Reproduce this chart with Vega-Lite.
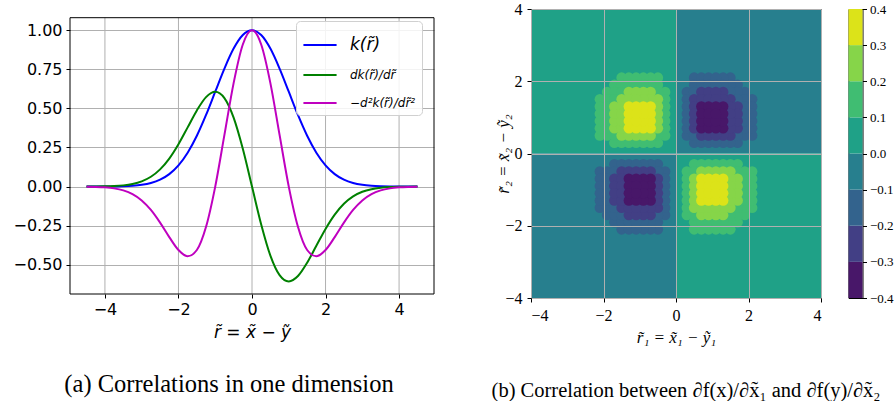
{
"$schema":"https://vega.github.io/schema/vega-lite/v6.json",
"background":"white",
"padding":{"left":12,"top":0,"right":0,"bottom":0},
"spacing":56,
"config":{
 "view":{"stroke":"black","strokeWidth":1},
 "axis":{"domain":false,"tickColor":"black","labelColor":"black","titleColor":"black","gridColor":"#b0b0b0","gridWidth":1,"tickSize":4,"titleFontWeight":"normal"},
 "title":{"fontWeight":"normal","color":"black"}
},
"resolve":{"scale":{"color":"independent"},"legend":{"color":"independent"}},
"hconcat":[
{
 "title":{"text":"(a) Correlations in one dimension","orient":"bottom","font":"Liberation Serif","fontSize":24.5,"offset":33,"anchor":"middle","dx":-23},
 "width":364,"height":285,
 "view":{"stroke":null},
 "encoding":{
   "x":{"field":"r","type":"quantitative","scale":{"domain":[-4.95,4.95],"nice":false,"zero":false},
        "axis":{"values":[-4,-2,0,2,4],"format":"d","grid":false,"title":"r̃ = x̃ − ỹ","labelFont":"DejaVu Sans","labelFontSize":16,"labelPadding":3,"titleFont":"DejaVu Sans","titleFontSize":17,"titleFontStyle":"italic","titlePadding":7}},
   "y":{"field":"v","type":"quantitative","scale":{"domain":[-0.687,1.1356],"nice":false,"zero":false},
        "axis":{"values":[-0.5,-0.25,0,0.25,0.5,0.75,1],"format":".2f","title":null,"labelFont":"DejaVu Sans","labelFontSize":16,"labelPadding":4}}
 },
 "layer":[
  {"data":{"values":[{"r":-4,"v":-0.687,"v2":1.08},{"r":-2,"v":-0.687,"v2":1.08},{"r":0,"v":-0.687,"v2":1.08},{"r":2,"v":-0.687,"v2":1.08},{"r":4,"v":-0.687,"v2":1.08}]},
   "mark":{"type":"rule","color":"#b0b0b0","strokeWidth":1},
   "encoding":{"y2":{"field":"v2"}}},
  {"data":{"values":[
{"r":-4.5,"c":"k","v":0.00004},{"r":-4.25,"c":"k","v":0.00012},{"r":-4,"c":"k","v":0.00034},{"r":-3.75,"c":"k","v":0.00088},{"r":-3.5,"c":"k","v":0.00219},{"r":-3.25,"c":"k","v":0.00509},{"r":-3,"c":"k","v":0.01111},{"r":-2.75,"c":"k","v":0.02279},{"r":-2.5,"c":"k","v":0.04394},{"r":-2.25,"c":"k","v":0.07956},{"r":-2,"c":"k","v":0.13534},{"r":-1.75,"c":"k","v":0.21627},{"r":-1.5,"c":"k","v":0.32465},{"r":-1.25,"c":"k","v":0.45783},{"r":-1,"c":"k","v":0.60653},{"r":-0.75,"c":"k","v":0.75484},{"r":-0.5,"c":"k","v":0.8825},{"r":-0.25,"c":"k","v":0.96923},{"r":0,"c":"k","v":1},{"r":0.25,"c":"k","v":0.96923},{"r":0.5,"c":"k","v":0.8825},{"r":0.75,"c":"k","v":0.75484},{"r":1,"c":"k","v":0.60653},{"r":1.25,"c":"k","v":0.45783},{"r":1.5,"c":"k","v":0.32465},{"r":1.75,"c":"k","v":0.21627},{"r":2,"c":"k","v":0.13534},{"r":2.25,"c":"k","v":0.07956},{"r":2.5,"c":"k","v":0.04394},{"r":2.75,"c":"k","v":0.02279},{"r":3,"c":"k","v":0.01111},{"r":3.25,"c":"k","v":0.00509},{"r":3.5,"c":"k","v":0.00219},{"r":3.75,"c":"k","v":0.00088},{"r":4,"c":"k","v":0.00034},{"r":4.25,"c":"k","v":0.00012},{"r":4.5,"c":"k","v":0.00004},
{"r":-4.5,"c":"d1","v":0.00018},{"r":-4.25,"c":"d1","v":0.00051},{"r":-4,"c":"d1","v":0.00134},{"r":-3.75,"c":"d1","v":0.00332},{"r":-3.5,"c":"d1","v":0.00766},{"r":-3.25,"c":"d1","v":0.01653},{"r":-3,"c":"d1","v":0.03333},{"r":-2.75,"c":"d1","v":0.06268},{"r":-2.5,"c":"d1","v":0.10984},{"r":-2.25,"c":"d1","v":0.17901},{"r":-2,"c":"d1","v":0.27067},{"r":-1.75,"c":"d1","v":0.37847},{"r":-1.5,"c":"d1","v":0.48698},{"r":-1.25,"c":"d1","v":0.57229},{"r":-1,"c":"d1","v":0.60653},{"r":-0.75,"c":"d1","v":0.56613},{"r":-0.5,"c":"d1","v":0.44125},{"r":-0.25,"c":"d1","v":0.24231},{"r":0,"c":"d1","v":0},{"r":0.25,"c":"d1","v":-0.24231},{"r":0.5,"c":"d1","v":-0.44125},{"r":0.75,"c":"d1","v":-0.56613},{"r":1,"c":"d1","v":-0.60653},{"r":1.25,"c":"d1","v":-0.57229},{"r":1.5,"c":"d1","v":-0.48698},{"r":1.75,"c":"d1","v":-0.37847},{"r":2,"c":"d1","v":-0.27067},{"r":2.25,"c":"d1","v":-0.17901},{"r":2.5,"c":"d1","v":-0.10984},{"r":2.75,"c":"d1","v":-0.06268},{"r":3,"c":"d1","v":-0.03333},{"r":3.25,"c":"d1","v":-0.01653},{"r":3.5,"c":"d1","v":-0.00766},{"r":3.75,"c":"d1","v":-0.00332},{"r":4,"c":"d1","v":-0.00134},{"r":4.25,"c":"d1","v":-0.00051},{"r":4.5,"c":"d1","v":-0.00018},
{"r":-4.5,"c":"d2","v":-0.00077},{"r":-4.25,"c":"d2","v":-0.00205},{"r":-4,"c":"d2","v":-0.00503},{"r":-3.75,"c":"d2","v":-0.01155},{"r":-3.5,"c":"d2","v":-0.0246},{"r":-3.25,"c":"d2","v":-0.04864},{"r":-3,"c":"d2","v":-0.08888},{"r":-2.75,"c":"d2","v":-0.14956},{"r":-2.5,"c":"d2","v":-0.23068},{"r":-2.25,"c":"d2","v":-0.32321},{"r":-2,"c":"d2","v":-0.40601},{"r":-1.75,"c":"d2","v":-0.44606},{"r":-1.5,"c":"d2","v":-0.40581},{"r":-1.25,"c":"d2","v":-0.25753},{"r":-1,"c":"d2","v":0},{"r":-0.75,"c":"d2","v":0.33024},{"r":-0.5,"c":"d2","v":0.66188},{"r":-0.25,"c":"d2","v":0.90865},{"r":0,"c":"d2","v":1},{"r":0.25,"c":"d2","v":0.90865},{"r":0.5,"c":"d2","v":0.66188},{"r":0.75,"c":"d2","v":0.33024},{"r":1,"c":"d2","v":0},{"r":1.25,"c":"d2","v":-0.25753},{"r":1.5,"c":"d2","v":-0.40581},{"r":1.75,"c":"d2","v":-0.44606},{"r":2,"c":"d2","v":-0.40601},{"r":2.25,"c":"d2","v":-0.32321},{"r":2.5,"c":"d2","v":-0.23068},{"r":2.75,"c":"d2","v":-0.14956},{"r":3,"c":"d2","v":-0.08888},{"r":3.25,"c":"d2","v":-0.04864},{"r":3.5,"c":"d2","v":-0.0246},{"r":3.75,"c":"d2","v":-0.01155},{"r":4,"c":"d2","v":-0.00503},{"r":4.25,"c":"d2","v":-0.00205},{"r":4.5,"c":"d2","v":-0.00077}
   ]},
   "mark":{"type":"line","strokeWidth":2,"interpolate":"monotone"},
   "encoding":{
    "color":{"field":"c","type":"nominal","scale":{"domain":["k","d1","d2"],"range":["#0000ff","#008000","#bf00bf"]},
     "legend":{"title":null,"orient":"top-right","offset":12,"padding":6,"fillColor":"rgba(255,255,255,0.85)","strokeColor":"#d0d0d0","cornerRadius":4,
       "symbolType":"stroke","symbolSize":1100,"symbolStrokeWidth":2,"rowPadding":4,"labelOffset":12,
       "labelFont":"DejaVu Sans","labelFontStyle":"italic","labelColor":"black","labelFontSize":{"expr":"datum.value == 'k' ? 17 : 12"},
       "labelExpr":"datum.value == 'k' ? 'k(r̃)' : datum.value == 'd1' ? 'dk(r̃)/dr̃' : '−d²k(r̃)/dr̃²'"}}
   }},
  {"data":{"values":[{"r":-4.95,"r2":4.95,"v":-0.687,"v2":1.08}]},
   "mark":{"type":"rect","fill":null,"fillOpacity":0,"stroke":"black","strokeWidth":1},
   "encoding":{"x2":{"field":"r2"},"y2":{"field":"v2"}}}
 ]
},
{
 "title":{"text":"(b) Correlation between ∂f(x)/∂x̃₁ and ∂f(y)/∂x̃₂","orient":"bottom","font":"Liberation Serif","fontSize":20.5,"offset":35,"anchor":"middle","dx":-8},
 "spacing":25.5,
 "resolve":{"scale":{"color":"independent"},"legend":{"color":"independent"}},
 "hconcat":[
 {
  "width":290,"height":289,
  "encoding":{
   "x":{"field":"x","type":"quantitative","scale":{"domain":[-4,4],"nice":false,"zero":false},
        "axis":{"values":[-4,-2,0,2,4],"format":"d","title":"r̃₁ = x̃₁ − ỹ₁","zindex":1,"labelFont":"Liberation Serif","labelFontSize":16,"labelPadding":5,"titleFont":"Liberation Serif","titleFontSize":17,"titleFontStyle":"italic","titlePadding":6}},
   "y":{"field":"y","type":"quantitative","scale":{"domain":[-4,4],"nice":false,"zero":false},
        "axis":{"values":[-4,-2,0,2,4],"format":"d","title":"r̃₂ = x̃₂ − ỹ₂","zindex":1,"labelFont":"Liberation Serif","labelFontSize":16,"labelPadding":5,"titleFont":"Liberation Serif","titleFontSize":17,"titleFontStyle":"italic","titlePadding":-8}},
   "color":{"field":"v","type":"quantitative","scale":{"type":"threshold","domain":[-0.3,-0.2,-0.1,0,0.1,0.2,0.3],"range":["#481769","#423f85","#33638d","#277f8e","#1fa187","#40bd72","#86d549","#dce319"]},"legend":null}
  },
  "layer":[
   {"data":{"values":[
     {"x":-4,"xe":0,"y":0,"ye":4,"v":0.05},{"x":0,"xe":4,"y":0,"ye":4,"v":-0.05},{"x":-4,"xe":0,"y":-4,"ye":0,"v":-0.05},{"x":0,"xe":4,"y":-4,"ye":0,"v":0.05}]},
    "mark":{"type":"rect","strokeWidth":0},
    "encoding":{"x2":{"field":"xe"},"y2":{"field":"ye"}}},
   {"data":{"name":"cells"},
    "transform":[{"filter":"datum.v > 0"}],
    "mark":{"type":"circle","size":112,"opacity":1,"strokeWidth":0},
    "encoding":{"order":{"field":"v","sort":"ascending"}}},
   {"data":{"name":"cells"},
    "transform":[{"filter":"datum.v < 0"}],
    "mark":{"type":"circle","size":112,"opacity":1,"strokeWidth":0},
    "encoding":{"order":{"field":"v","sort":"descending"}}}
  ]
 },
 {
  "width":14,"height":289,
  "data":{"values":[
   {"lo":-0.4,"hi":-0.3,"v":-0.35},{"lo":-0.3,"hi":-0.2,"v":-0.25},{"lo":-0.2,"hi":-0.1,"v":-0.15},{"lo":-0.1,"hi":0,"v":-0.05},
   {"lo":0,"hi":0.1,"v":0.05},{"lo":0.1,"hi":0.2,"v":0.15},{"lo":0.2,"hi":0.3,"v":0.25},{"lo":0.3,"hi":0.4,"v":0.35}]},
  "mark":{"type":"rect","strokeWidth":0},
  "encoding":{
   "y":{"field":"lo","type":"quantitative","scale":{"domain":[-0.4,0.4],"nice":false,"zero":false},
        "axis":{"orient":"right","values":[-0.4,-0.3,-0.2,-0.1,0,0.1,0.2,0.3,0.4],"format":".1f","title":null,"grid":false,"labelFont":"Liberation Serif","labelFontSize":13,"labelPadding":3}},
   "y2":{"field":"hi"},
   "color":{"field":"v","type":"quantitative","scale":{"type":"threshold","domain":[-0.3,-0.2,-0.1,0,0.1,0.2,0.3],"range":["#481769","#423f85","#33638d","#277f8e","#1fa187","#40bd72","#86d549","#dce319"]},"legend":null}
  }
 }
 ]
}
],
"datasets":{"cells":[
{"x":0.3,"y":0.5,"v":-0.127},{"x":0.3,"y":0.7,"v":-0.157},{"x":0.3,"y":0.9,"v":-0.172},{"x":0.3,"y":1.1,"v":-0.172},{"x":0.3,"y":1.3,"v":-0.16},{"x":0.3,"y":1.5,"v":-0.14},{"x":0.3,"y":1.7,"v":-0.115},
{"x":0.5,"y":0.3,"v":-0.127},{"x":0.5,"y":0.5,"v":-0.195},{"x":0.5,"y":0.7,"v":-0.242},{"x":0.5,"y":0.9,"v":-0.265},{"x":0.5,"y":1.1,"v":-0.265},{"x":0.5,"y":1.3,"v":-0.246},{"x":0.5,"y":1.5,"v":-0.215},{"x":0.5,"y":1.7,"v":-0.177},{"x":0.5,"y":1.9,"v":-0.138},{"x":0.5,"y":2.1,"v":-0.102},
{"x":0.7,"y":0.3,"v":-0.157},{"x":0.7,"y":0.5,"v":-0.242},{"x":0.7,"y":0.7,"v":-0.301},{"x":0.7,"y":0.9,"v":-0.329},{"x":0.7,"y":1.1,"v":-0.329},{"x":0.7,"y":1.3,"v":-0.306},{"x":0.7,"y":1.5,"v":-0.267},{"x":0.7,"y":1.7,"v":-0.22},{"x":0.7,"y":1.9,"v":-0.171},{"x":0.7,"y":2.1,"v":-0.127},
{"x":0.9,"y":0.3,"v":-0.172},{"x":0.9,"y":0.5,"v":-0.265},{"x":0.9,"y":0.7,"v":-0.329},{"x":0.9,"y":0.9,"v":-0.36},{"x":0.9,"y":1.1,"v":-0.361},{"x":0.9,"y":1.3,"v":-0.335},{"x":0.9,"y":1.5,"v":-0.292},{"x":0.9,"y":1.7,"v":-0.241},{"x":0.9,"y":1.9,"v":-0.188},{"x":0.9,"y":2.1,"v":-0.139},
{"x":1.1,"y":0.3,"v":-0.172},{"x":1.1,"y":0.5,"v":-0.265},{"x":1.1,"y":0.7,"v":-0.329},{"x":1.1,"y":0.9,"v":-0.361},{"x":1.1,"y":1.1,"v":-0.361},{"x":1.1,"y":1.3,"v":-0.335},{"x":1.1,"y":1.5,"v":-0.293},{"x":1.1,"y":1.7,"v":-0.241},{"x":1.1,"y":1.9,"v":-0.188},{"x":1.1,"y":2.1,"v":-0.139},
{"x":1.3,"y":0.3,"v":-0.16},{"x":1.3,"y":0.5,"v":-0.246},{"x":1.3,"y":0.7,"v":-0.306},{"x":1.3,"y":0.9,"v":-0.335},{"x":1.3,"y":1.1,"v":-0.335},{"x":1.3,"y":1.3,"v":-0.312},{"x":1.3,"y":1.5,"v":-0.272},{"x":1.3,"y":1.7,"v":-0.224},{"x":1.3,"y":1.9,"v":-0.175},{"x":1.3,"y":2.1,"v":-0.129},
{"x":1.5,"y":0.3,"v":-0.14},{"x":1.5,"y":0.5,"v":-0.215},{"x":1.5,"y":0.7,"v":-0.267},{"x":1.5,"y":0.9,"v":-0.292},{"x":1.5,"y":1.1,"v":-0.293},{"x":1.5,"y":1.3,"v":-0.272},{"x":1.5,"y":1.5,"v":-0.237},{"x":1.5,"y":1.7,"v":-0.195},{"x":1.5,"y":1.9,"v":-0.152},{"x":1.5,"y":2.1,"v":-0.113},
{"x":1.7,"y":0.3,"v":-0.115},{"x":1.7,"y":0.5,"v":-0.177},{"x":1.7,"y":0.7,"v":-0.22},{"x":1.7,"y":0.9,"v":-0.241},{"x":1.7,"y":1.1,"v":-0.241},{"x":1.7,"y":1.3,"v":-0.224},{"x":1.7,"y":1.5,"v":-0.195},{"x":1.7,"y":1.7,"v":-0.161},{"x":1.7,"y":1.9,"v":-0.125},
{"x":1.9,"y":0.5,"v":-0.138},{"x":1.9,"y":0.7,"v":-0.171},{"x":1.9,"y":0.9,"v":-0.188},{"x":1.9,"y":1.1,"v":-0.188},{"x":1.9,"y":1.3,"v":-0.175},{"x":1.9,"y":1.5,"v":-0.152},{"x":1.9,"y":1.7,"v":-0.125},
{"x":2.1,"y":0.5,"v":-0.102},{"x":2.1,"y":0.7,"v":-0.127},{"x":2.1,"y":0.9,"v":-0.139},{"x":2.1,"y":1.1,"v":-0.139},{"x":2.1,"y":1.3,"v":-0.129},{"x":2.1,"y":1.5,"v":-0.113},
{"x":-0.3,"y":0.5,"v":0.127},{"x":-0.3,"y":0.7,"v":0.157},{"x":-0.3,"y":0.9,"v":0.172},{"x":-0.3,"y":1.1,"v":0.172},{"x":-0.3,"y":1.3,"v":0.16},{"x":-0.3,"y":1.5,"v":0.14},{"x":-0.3,"y":1.7,"v":0.115},
{"x":-0.5,"y":0.3,"v":0.127},{"x":-0.5,"y":0.5,"v":0.195},{"x":-0.5,"y":0.7,"v":0.242},{"x":-0.5,"y":0.9,"v":0.265},{"x":-0.5,"y":1.1,"v":0.265},{"x":-0.5,"y":1.3,"v":0.246},{"x":-0.5,"y":1.5,"v":0.215},{"x":-0.5,"y":1.7,"v":0.177},{"x":-0.5,"y":1.9,"v":0.138},{"x":-0.5,"y":2.1,"v":0.102},
{"x":-0.7,"y":0.3,"v":0.157},{"x":-0.7,"y":0.5,"v":0.242},{"x":-0.7,"y":0.7,"v":0.301},{"x":-0.7,"y":0.9,"v":0.329},{"x":-0.7,"y":1.1,"v":0.329},{"x":-0.7,"y":1.3,"v":0.306},{"x":-0.7,"y":1.5,"v":0.267},{"x":-0.7,"y":1.7,"v":0.22},{"x":-0.7,"y":1.9,"v":0.171},{"x":-0.7,"y":2.1,"v":0.127},
{"x":-0.9,"y":0.3,"v":0.172},{"x":-0.9,"y":0.5,"v":0.265},{"x":-0.9,"y":0.7,"v":0.329},{"x":-0.9,"y":0.9,"v":0.36},{"x":-0.9,"y":1.1,"v":0.361},{"x":-0.9,"y":1.3,"v":0.335},{"x":-0.9,"y":1.5,"v":0.292},{"x":-0.9,"y":1.7,"v":0.241},{"x":-0.9,"y":1.9,"v":0.188},{"x":-0.9,"y":2.1,"v":0.139},
{"x":-1.1,"y":0.3,"v":0.172},{"x":-1.1,"y":0.5,"v":0.265},{"x":-1.1,"y":0.7,"v":0.329},{"x":-1.1,"y":0.9,"v":0.361},{"x":-1.1,"y":1.1,"v":0.361},{"x":-1.1,"y":1.3,"v":0.335},{"x":-1.1,"y":1.5,"v":0.293},{"x":-1.1,"y":1.7,"v":0.241},{"x":-1.1,"y":1.9,"v":0.188},{"x":-1.1,"y":2.1,"v":0.139},
{"x":-1.3,"y":0.3,"v":0.16},{"x":-1.3,"y":0.5,"v":0.246},{"x":-1.3,"y":0.7,"v":0.306},{"x":-1.3,"y":0.9,"v":0.335},{"x":-1.3,"y":1.1,"v":0.335},{"x":-1.3,"y":1.3,"v":0.312},{"x":-1.3,"y":1.5,"v":0.272},{"x":-1.3,"y":1.7,"v":0.224},{"x":-1.3,"y":1.9,"v":0.175},{"x":-1.3,"y":2.1,"v":0.129},
{"x":-1.5,"y":0.3,"v":0.14},{"x":-1.5,"y":0.5,"v":0.215},{"x":-1.5,"y":0.7,"v":0.267},{"x":-1.5,"y":0.9,"v":0.292},{"x":-1.5,"y":1.1,"v":0.293},{"x":-1.5,"y":1.3,"v":0.272},{"x":-1.5,"y":1.5,"v":0.237},{"x":-1.5,"y":1.7,"v":0.195},{"x":-1.5,"y":1.9,"v":0.152},{"x":-1.5,"y":2.1,"v":0.113},
{"x":-1.7,"y":0.3,"v":0.115},{"x":-1.7,"y":0.5,"v":0.177},{"x":-1.7,"y":0.7,"v":0.22},{"x":-1.7,"y":0.9,"v":0.241},{"x":-1.7,"y":1.1,"v":0.241},{"x":-1.7,"y":1.3,"v":0.224},{"x":-1.7,"y":1.5,"v":0.195},{"x":-1.7,"y":1.7,"v":0.161},{"x":-1.7,"y":1.9,"v":0.125},
{"x":-1.9,"y":0.5,"v":0.138},{"x":-1.9,"y":0.7,"v":0.171},{"x":-1.9,"y":0.9,"v":0.188},{"x":-1.9,"y":1.1,"v":0.188},{"x":-1.9,"y":1.3,"v":0.175},{"x":-1.9,"y":1.5,"v":0.152},{"x":-1.9,"y":1.7,"v":0.125},
{"x":-2.1,"y":0.5,"v":0.102},{"x":-2.1,"y":0.7,"v":0.127},{"x":-2.1,"y":0.9,"v":0.139},{"x":-2.1,"y":1.1,"v":0.139},{"x":-2.1,"y":1.3,"v":0.129},{"x":-2.1,"y":1.5,"v":0.113},
{"x":-0.3,"y":-0.5,"v":-0.127},{"x":-0.3,"y":-0.7,"v":-0.157},{"x":-0.3,"y":-0.9,"v":-0.172},{"x":-0.3,"y":-1.1,"v":-0.172},{"x":-0.3,"y":-1.3,"v":-0.16},{"x":-0.3,"y":-1.5,"v":-0.14},{"x":-0.3,"y":-1.7,"v":-0.115},
{"x":-0.5,"y":-0.3,"v":-0.127},{"x":-0.5,"y":-0.5,"v":-0.195},{"x":-0.5,"y":-0.7,"v":-0.242},{"x":-0.5,"y":-0.9,"v":-0.265},{"x":-0.5,"y":-1.1,"v":-0.265},{"x":-0.5,"y":-1.3,"v":-0.246},{"x":-0.5,"y":-1.5,"v":-0.215},{"x":-0.5,"y":-1.7,"v":-0.177},{"x":-0.5,"y":-1.9,"v":-0.138},{"x":-0.5,"y":-2.1,"v":-0.102},
{"x":-0.7,"y":-0.3,"v":-0.157},{"x":-0.7,"y":-0.5,"v":-0.242},{"x":-0.7,"y":-0.7,"v":-0.301},{"x":-0.7,"y":-0.9,"v":-0.329},{"x":-0.7,"y":-1.1,"v":-0.329},{"x":-0.7,"y":-1.3,"v":-0.306},{"x":-0.7,"y":-1.5,"v":-0.267},{"x":-0.7,"y":-1.7,"v":-0.22},{"x":-0.7,"y":-1.9,"v":-0.171},{"x":-0.7,"y":-2.1,"v":-0.127},
{"x":-0.9,"y":-0.3,"v":-0.172},{"x":-0.9,"y":-0.5,"v":-0.265},{"x":-0.9,"y":-0.7,"v":-0.329},{"x":-0.9,"y":-0.9,"v":-0.36},{"x":-0.9,"y":-1.1,"v":-0.361},{"x":-0.9,"y":-1.3,"v":-0.335},{"x":-0.9,"y":-1.5,"v":-0.292},{"x":-0.9,"y":-1.7,"v":-0.241},{"x":-0.9,"y":-1.9,"v":-0.188},{"x":-0.9,"y":-2.1,"v":-0.139},
{"x":-1.1,"y":-0.3,"v":-0.172},{"x":-1.1,"y":-0.5,"v":-0.265},{"x":-1.1,"y":-0.7,"v":-0.329},{"x":-1.1,"y":-0.9,"v":-0.361},{"x":-1.1,"y":-1.1,"v":-0.361},{"x":-1.1,"y":-1.3,"v":-0.335},{"x":-1.1,"y":-1.5,"v":-0.293},{"x":-1.1,"y":-1.7,"v":-0.241},{"x":-1.1,"y":-1.9,"v":-0.188},{"x":-1.1,"y":-2.1,"v":-0.139},
{"x":-1.3,"y":-0.3,"v":-0.16},{"x":-1.3,"y":-0.5,"v":-0.246},{"x":-1.3,"y":-0.7,"v":-0.306},{"x":-1.3,"y":-0.9,"v":-0.335},{"x":-1.3,"y":-1.1,"v":-0.335},{"x":-1.3,"y":-1.3,"v":-0.312},{"x":-1.3,"y":-1.5,"v":-0.272},{"x":-1.3,"y":-1.7,"v":-0.224},{"x":-1.3,"y":-1.9,"v":-0.175},{"x":-1.3,"y":-2.1,"v":-0.129},
{"x":-1.5,"y":-0.3,"v":-0.14},{"x":-1.5,"y":-0.5,"v":-0.215},{"x":-1.5,"y":-0.7,"v":-0.267},{"x":-1.5,"y":-0.9,"v":-0.292},{"x":-1.5,"y":-1.1,"v":-0.293},{"x":-1.5,"y":-1.3,"v":-0.272},{"x":-1.5,"y":-1.5,"v":-0.237},{"x":-1.5,"y":-1.7,"v":-0.195},{"x":-1.5,"y":-1.9,"v":-0.152},{"x":-1.5,"y":-2.1,"v":-0.113},
{"x":-1.7,"y":-0.3,"v":-0.115},{"x":-1.7,"y":-0.5,"v":-0.177},{"x":-1.7,"y":-0.7,"v":-0.22},{"x":-1.7,"y":-0.9,"v":-0.241},{"x":-1.7,"y":-1.1,"v":-0.241},{"x":-1.7,"y":-1.3,"v":-0.224},{"x":-1.7,"y":-1.5,"v":-0.195},{"x":-1.7,"y":-1.7,"v":-0.161},{"x":-1.7,"y":-1.9,"v":-0.125},
{"x":-1.9,"y":-0.5,"v":-0.138},{"x":-1.9,"y":-0.7,"v":-0.171},{"x":-1.9,"y":-0.9,"v":-0.188},{"x":-1.9,"y":-1.1,"v":-0.188},{"x":-1.9,"y":-1.3,"v":-0.175},{"x":-1.9,"y":-1.5,"v":-0.152},{"x":-1.9,"y":-1.7,"v":-0.125},
{"x":-2.1,"y":-0.5,"v":-0.102},{"x":-2.1,"y":-0.7,"v":-0.127},{"x":-2.1,"y":-0.9,"v":-0.139},{"x":-2.1,"y":-1.1,"v":-0.139},{"x":-2.1,"y":-1.3,"v":-0.129},{"x":-2.1,"y":-1.5,"v":-0.113},
{"x":0.3,"y":-0.5,"v":0.127},{"x":0.3,"y":-0.7,"v":0.157},{"x":0.3,"y":-0.9,"v":0.172},{"x":0.3,"y":-1.1,"v":0.172},{"x":0.3,"y":-1.3,"v":0.16},{"x":0.3,"y":-1.5,"v":0.14},{"x":0.3,"y":-1.7,"v":0.115},
{"x":0.5,"y":-0.3,"v":0.127},{"x":0.5,"y":-0.5,"v":0.195},{"x":0.5,"y":-0.7,"v":0.242},{"x":0.5,"y":-0.9,"v":0.265},{"x":0.5,"y":-1.1,"v":0.265},{"x":0.5,"y":-1.3,"v":0.246},{"x":0.5,"y":-1.5,"v":0.215},{"x":0.5,"y":-1.7,"v":0.177},{"x":0.5,"y":-1.9,"v":0.138},{"x":0.5,"y":-2.1,"v":0.102},
{"x":0.7,"y":-0.3,"v":0.157},{"x":0.7,"y":-0.5,"v":0.242},{"x":0.7,"y":-0.7,"v":0.301},{"x":0.7,"y":-0.9,"v":0.329},{"x":0.7,"y":-1.1,"v":0.329},{"x":0.7,"y":-1.3,"v":0.306},{"x":0.7,"y":-1.5,"v":0.267},{"x":0.7,"y":-1.7,"v":0.22},{"x":0.7,"y":-1.9,"v":0.171},{"x":0.7,"y":-2.1,"v":0.127},
{"x":0.9,"y":-0.3,"v":0.172},{"x":0.9,"y":-0.5,"v":0.265},{"x":0.9,"y":-0.7,"v":0.329},{"x":0.9,"y":-0.9,"v":0.36},{"x":0.9,"y":-1.1,"v":0.361},{"x":0.9,"y":-1.3,"v":0.335},{"x":0.9,"y":-1.5,"v":0.292},{"x":0.9,"y":-1.7,"v":0.241},{"x":0.9,"y":-1.9,"v":0.188},{"x":0.9,"y":-2.1,"v":0.139},
{"x":1.1,"y":-0.3,"v":0.172},{"x":1.1,"y":-0.5,"v":0.265},{"x":1.1,"y":-0.7,"v":0.329},{"x":1.1,"y":-0.9,"v":0.361},{"x":1.1,"y":-1.1,"v":0.361},{"x":1.1,"y":-1.3,"v":0.335},{"x":1.1,"y":-1.5,"v":0.293},{"x":1.1,"y":-1.7,"v":0.241},{"x":1.1,"y":-1.9,"v":0.188},{"x":1.1,"y":-2.1,"v":0.139},
{"x":1.3,"y":-0.3,"v":0.16},{"x":1.3,"y":-0.5,"v":0.246},{"x":1.3,"y":-0.7,"v":0.306},{"x":1.3,"y":-0.9,"v":0.335},{"x":1.3,"y":-1.1,"v":0.335},{"x":1.3,"y":-1.3,"v":0.312},{"x":1.3,"y":-1.5,"v":0.272},{"x":1.3,"y":-1.7,"v":0.224},{"x":1.3,"y":-1.9,"v":0.175},{"x":1.3,"y":-2.1,"v":0.129},
{"x":1.5,"y":-0.3,"v":0.14},{"x":1.5,"y":-0.5,"v":0.215},{"x":1.5,"y":-0.7,"v":0.267},{"x":1.5,"y":-0.9,"v":0.292},{"x":1.5,"y":-1.1,"v":0.293},{"x":1.5,"y":-1.3,"v":0.272},{"x":1.5,"y":-1.5,"v":0.237},{"x":1.5,"y":-1.7,"v":0.195},{"x":1.5,"y":-1.9,"v":0.152},{"x":1.5,"y":-2.1,"v":0.113},
{"x":1.7,"y":-0.3,"v":0.115},{"x":1.7,"y":-0.5,"v":0.177},{"x":1.7,"y":-0.7,"v":0.22},{"x":1.7,"y":-0.9,"v":0.241},{"x":1.7,"y":-1.1,"v":0.241},{"x":1.7,"y":-1.3,"v":0.224},{"x":1.7,"y":-1.5,"v":0.195},{"x":1.7,"y":-1.7,"v":0.161},{"x":1.7,"y":-1.9,"v":0.125},
{"x":1.9,"y":-0.5,"v":0.138},{"x":1.9,"y":-0.7,"v":0.171},{"x":1.9,"y":-0.9,"v":0.188},{"x":1.9,"y":-1.1,"v":0.188},{"x":1.9,"y":-1.3,"v":0.175},{"x":1.9,"y":-1.5,"v":0.152},{"x":1.9,"y":-1.7,"v":0.125},
{"x":2.1,"y":-0.5,"v":0.102},{"x":2.1,"y":-0.7,"v":0.127},{"x":2.1,"y":-0.9,"v":0.139},{"x":2.1,"y":-1.1,"v":0.139},{"x":2.1,"y":-1.3,"v":0.129},{"x":2.1,"y":-1.5,"v":0.113}
]}
}
